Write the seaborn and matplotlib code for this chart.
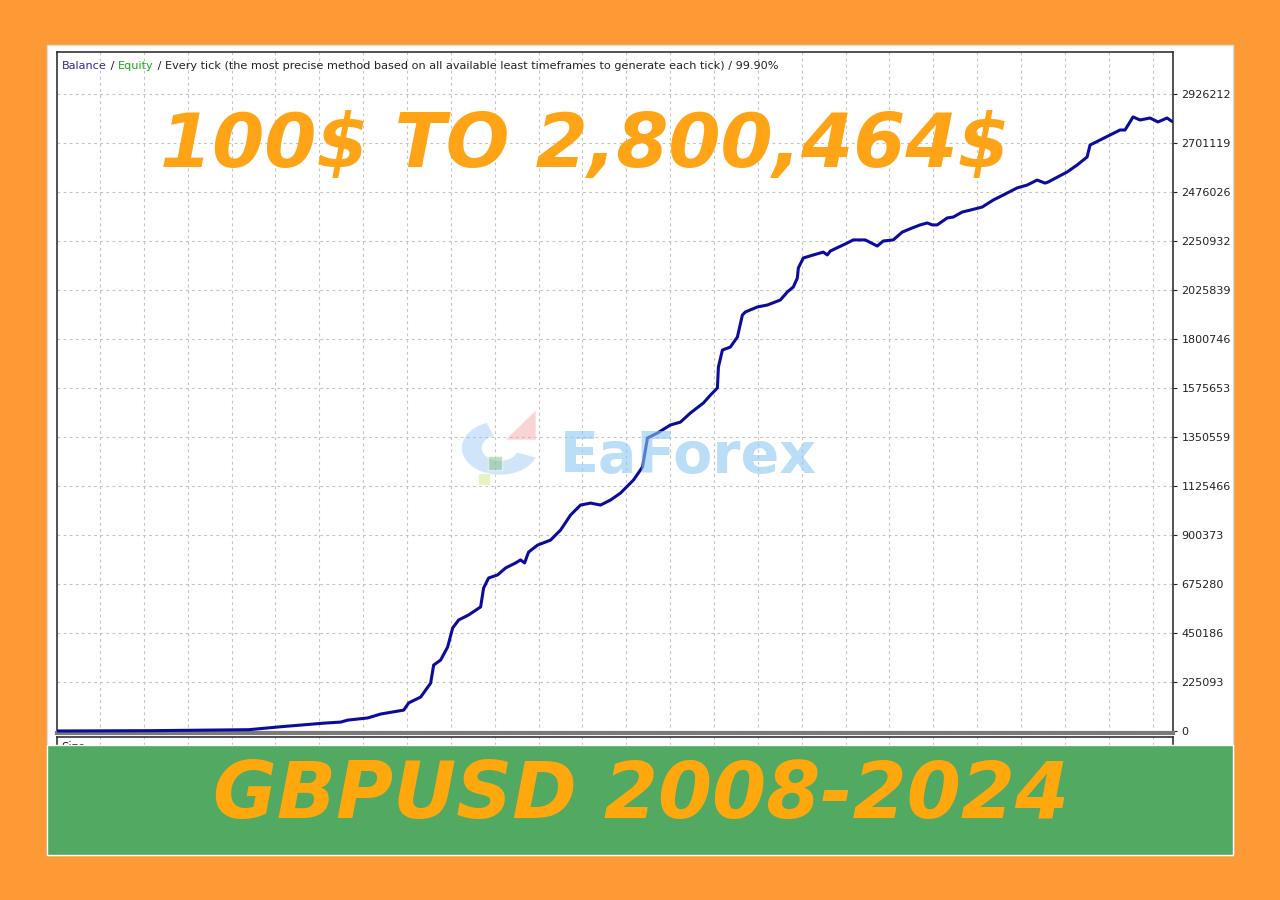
import numpy as np
import pandas as pd
import seaborn as sns
import matplotlib.pyplot as plt
from matplotlib.patches import Rectangle, Wedge, Polygon

# balance curve (trade number, balance $)
trades = [0, 93, 191, 224, 266, 283, 290, 310, 323, 346, 351, 363, 373, 376, 383,
          390, 395, 401, 411, 423, 426, 431, 440, 448, 458, 463, 467, 471, 480, 493,
          503, 513, 523, 533, 543, 553, 563, 576, 585, 590, 600, 613, 623, 633, 646,
          653, 660, 661, 665, 673, 680, 685, 688, 700, 710, 723, 730, 736, 740, 741,
          746, 756, 766, 770, 773, 790, 796, 808, 820, 826, 836, 845, 855, 863, 870,
          875, 880, 890, 896, 905, 913, 925, 936, 946, 960, 970, 980, 988, 991, 1010,
          1020, 1030, 1033, 1043, 1053, 1063, 1068, 1076, 1083, 1093, 1101, 1110, 1115]
balance = [100, 1500, 6000, 20000, 36000, 41000, 50000, 60000, 78000, 96000, 129000,
           156000, 220000, 303000, 326000, 386000, 473000, 510000, 533000, 570000,
           657000, 703000, 717000, 749000, 772000, 786000, 772000, 822000, 854000,
           877000, 923000, 992000, 1038000, 1047000, 1038000, 1061000, 1093000,
           1153000, 1213000, 1346000, 1369000, 1406000, 1419000, 1461000, 1507000,
           1543000, 1576000, 1672000, 1750000, 1764000, 1810000, 1911000, 1925000,
           1948000, 1957000, 1980000, 2017000, 2040000, 2081000, 2127000, 2173000,
           2187000, 2200000, 2187000, 2205000, 2242000, 2256000, 2256000, 2228000,
           2251000, 2256000, 2292000, 2311000, 2325000, 2334000, 2325000, 2325000,
           2357000, 2361000, 2384000, 2393000, 2407000, 2439000, 2462000, 2495000,
           2508000, 2531000, 2517000, 2522000, 2568000, 2600000, 2637000, 2692000,
           2715000, 2738000, 2761000, 2761000, 2821000, 2807000, 2816000, 2798000,
           2816000, 2800464]

tick_labels = ["0", "225093", "450186", "675280", "900373", "1125466", "1350559",
               "1575653", "1800746", "2025839", "2250932", "2476026", "2701119",
               "2926212"]

title_text = "100$ TO 2,800,464$"
banner_text = "GBPUSD 2008-2024"

df = pd.DataFrame({"trade": trades, "balance": balance})

sns.set_style("white")
plt.rcParams["font.family"] = ["DejaVu Sans"]

W, H = 1280, 900
fig = plt.figure(figsize=(12.8, 9), dpi=100)
fig.patch.set_facecolor("#FD9A36")

def fx(px):
    return px / W

def fy(py):
    return 1 - py / H

# white card
fig.patches.append(Rectangle((fx(47), fy(855)), fx(1233 - 47), (855 - 45) / H,
                             transform=fig.transFigure, facecolor="white",
                             edgecolor="#DDDDDD", linewidth=1, zorder=-5))

ax = fig.add_axes([fx(57), fy(733), fx(1173 - 57), (733 - 52) / H])
sns.lineplot(data=df, x="trade", y="balance", ax=ax, color="#0B0B9C",
             linewidth=2.2, estimator=None, sort=False, zorder=4)

ax.set_xlim(-1, 1116)
ax.set_ylim(-9188, 3119326)
ax.yaxis.tick_right()
ax.set_yticks([int(s) for s in tick_labels])
ax.set_yticklabels(tick_labels)
ax.tick_params(axis="y", right=True, left=False, length=3, width=0.8,
               colors="#222222", labelsize=8, pad=3)
ax.set_xticks(np.arange(42, 1116, 43.9))
ax.tick_params(axis="x", bottom=False, labelbottom=False)
ax.grid(True, color="#C4C4C4", linestyle=(0, (2.5, 3)), linewidth=0.8)
ax.set_xlabel("")
ax.set_ylabel("")
for s in ["left", "right", "top"]:
    ax.spines[s].set_color("#333333")
    ax.spines[s].set_linewidth(1.2)
ax.spines["bottom"].set_color("#7A7A7A")
ax.spines["bottom"].set_linewidth(3)

# lower "Size" panel, mostly hidden by the banner
ax2 = fig.add_axes([fx(57), fy(800), fx(1173 - 57), (800 - 737) / H])
ax2.set_xlim(-1, 1116)
ax2.set_xticks(np.arange(42, 1116, 43.9))
ax2.set_yticks([])
ax2.tick_params(axis="x", bottom=False, labelbottom=False)
ax2.grid(True, axis="x", color="#C4C4C4", linestyle=(0, (2.5, 3)), linewidth=0.8)
for s in ax2.spines.values():
    s.set_color("#333333")
    s.set_linewidth(1.2)
ax2.text(0.004, 0.93, "Size", transform=ax2.transAxes, fontsize=8.5,
         va="top", ha="left", color="#222222")

# header line: Balance / Equity / ...
fig.canvas.draw()
r = fig.canvas.get_renderer()
x0 = fx(62)
parts = [("Balance", "#2B2BA0"), (" / ", "#222222"), ("Equity", "#1DA41D"),
         (" / Every tick (the most precise method based on all available least "
          "timeframes to generate each tick) / 99.90%", "#222222")]
for txt, col in parts:
    t = fig.text(x0, fy(66), txt, color=col, fontsize=8.1, va="center", ha="left",
                 parse_math=False)
    x0 += t.get_window_extent(r).width / W

# watermark (logo + name)
fig.text(fx(688), fy(457), "EaForex", fontsize=41, color="#8CC8F4", alpha=0.6,
         fontweight="bold", ha="center", va="center", zorder=3)
fig.patches.append(Wedge((fx(500), fy(448)), 0.03, 110, 340, width=0.016,
                         transform=fig.transFigure, facecolor="#8CC0F4",
                         alpha=0.4, zorder=3))
fig.patches.append(Polygon([(fx(505), fy(440)), (fx(536), fy(410)), (fx(536), fy(440))],
                           closed=True, transform=fig.transFigure,
                           facecolor="#F4A0A0", alpha=0.45, zorder=3))
fig.patches.append(Rectangle((fx(488), fy(470)), fx(14), 14 / H, transform=fig.transFigure,
                             facecolor="#7FBF7F", alpha=0.5, zorder=3))
fig.patches.append(Rectangle((fx(478), fy(485)), fx(12), 12 / H, transform=fig.transFigure,
                             facecolor="#D8E89A", alpha=0.6, zorder=3))

# big headline
fig.text(fx(585), fy(146), title_text, fontsize=54, color="#FFA417",
         fontweight="heavy", fontstyle="italic", ha="center", va="center", zorder=5,
         parse_math=False)

# bottom banner
fig.patches.append(Rectangle((fx(47), fy(855)), fx(1233 - 47), (855 - 745) / H,
                             transform=fig.transFigure, facecolor="#52A962",
                             zorder=10))
fig.text(fx(641), fy(796), banner_text, fontsize=56, color="#FFA80E",
         fontweight="heavy", fontstyle="italic", ha="center", va="center", zorder=11,
         parse_math=False)

fig.savefig("out.png", dpi=100, facecolor=fig.get_facecolor())
